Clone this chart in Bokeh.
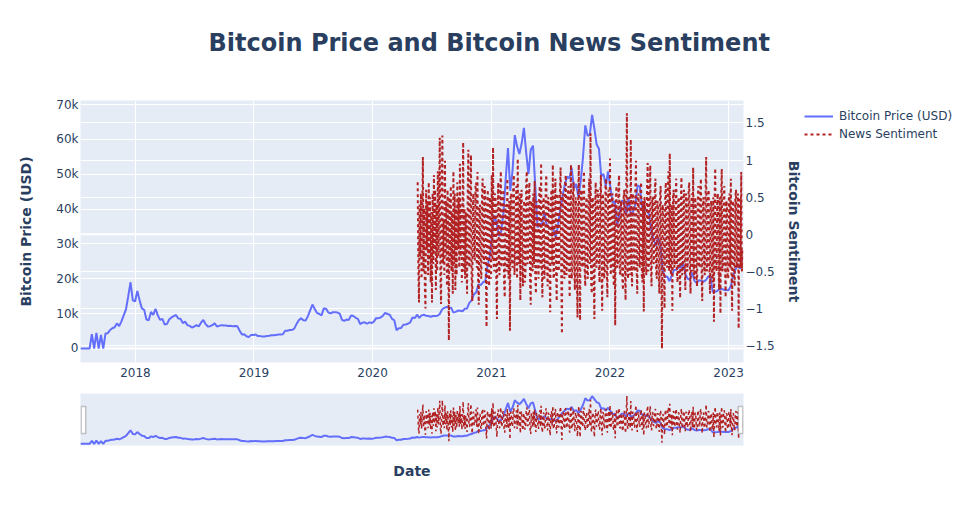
import pandas as pd
from bokeh.embed import file_html
from bokeh.layouts import column, row
from bokeh.models import (BoxAnnotation, ColumnDataSource, CustomJSTickFormatter,
                          DatetimeTickFormatter, FixedTicker, Grid, Legend, LegendItem,
                          LinearAxis, NumeralTickFormatter, Range1d, Span, Title)
from bokeh.plotting import figure
from bokeh.resources import INLINE

# ---- data ----
# weekly bitcoin price (USD), starting 2017-07-16
price_start = "2017-07-16"
price_usd = [
    # 2017
    0, 0, 0, 0, 0, 4100, 0, 4500, 0, 3900, 0, 4300, 4400, 5300, 5800, 6100,
    7200, 6400, 7800, 9500, 11200, 15000, 19000, 13800, 13500,
    # 2018
    16500, 13800, 11500, 11100, 8300, 8100, 10500, 9600, 11400, 9500, 8200, 8500,
    6900, 7000, 8300, 8900, 9300, 9600, 8600, 8500, 7300, 7700, 6700, 6500, 6000,
    6300, 6700, 6350, 7400, 8200, 7000, 6300, 6400, 6700, 7200, 6300, 6500, 6700,
    6600, 6600, 6450, 6500, 6350, 6450, 6350, 5100, 4000, 4100, 3500, 3250, 3900, 3850,
    # 2019
    4000, 3550, 3550, 3450, 3450, 3600, 3650, 3800, 3800, 3900, 4000, 4000, 4100,
    5100, 5100, 5300, 5300, 5700, 7000, 8100, 8700, 8100, 8000, 9300, 10900, 12600,
    11300, 10200, 9900, 9500, 11500, 11400, 10300, 10100, 10400, 10400, 10300, 10000,
    8200, 7900, 8300, 8200, 9500, 9300, 8800, 8500, 7000, 7400, 7500, 7100, 7500, 7300,
    # 2020
    7700, 8700, 8700, 8900, 9400, 10200, 9900, 9700, 8500, 8100, 5200, 5800, 5900,
    6800, 6900, 7100, 7500, 8900, 8700, 9700, 8800, 9500, 9700, 9400, 9300, 9100,
    9300, 9300, 9400, 9900, 11200, 11700, 11900, 11700, 11700, 10300, 10500, 10900,
    10800, 10700, 11400, 11500, 13100, 13800, 15500, 16100, 18400, 18200, 19000,
    19300, 23800, 26400,
    # 2021
    33000, 38200, 36000, 32300, 33500, 38900, 48700, 57500, 45200, 51000, 61200,
    58000, 55800, 58800, 63300, 56200, 50000, 57000, 58200, 46500, 34700, 35700,
    35800, 39000, 35600, 34700, 34600, 34200, 31800, 35400, 39900, 43800, 47000,
    49300, 48800, 51800, 46000, 47200, 43200, 48200, 55000, 64000, 61000, 61500,
    67000, 63000, 58500, 57300, 49400, 50100, 46700, 50800,
    # 2022
    46400, 41800, 42200, 35100, 38500, 42400, 42200, 38400, 43200, 38400, 39300,
    41300, 46800, 46400, 40500, 40400, 39500, 38500, 34000, 31300, 29400, 31800,
    29900, 22500, 20500, 20700, 19300, 20900, 22500, 22600, 23300, 23200, 24300,
    21500, 20000, 19800, 21800, 19400, 18800, 19600, 19400, 19200, 19600, 20600,
    20900, 16300, 16300, 16500, 17100, 17100, 16800, 16800,
    # 2023
    16700, 17900, 20900, 22700, 23800, 23000, 23600,
]

# news sentiment score, every 2 days starting 2020-05-19
sentiment_start = "2020-05-19"
sentiment = [
    0.70, -0.45, -0.92, 0.40, -0.30, 0.55, -0.60, 0.25, 1.04, -0.50,
    0.35, -0.70, -1.00, 0.60, -0.20, 0.45, -0.55, 0.70, -0.35, 0.50,
    -0.65, 0.30, -0.92, 0.55, -0.40, 0.80, -0.25, 0.60, -0.75, 0.40,
    -0.50, 0.85, -0.30, 0.45, 1.30, -0.60, -0.94, 0.50, 1.33, -0.40,
    0.20, -0.55, 0.99, -0.30, 0.45, -0.70, 0.60, -0.25, -1.43, 0.50,
    -0.35, 0.65, -0.50, 0.30, -0.80, 0.85, -0.40, 0.55, -0.75, 0.35,
    -0.55, 0.70, -0.20, 0.50, -0.45, 0.95, -0.30, 0.40, -0.65, 0.25,
    1.24, -0.50, 0.35, -0.60, 0.30, -0.35, -0.80, 0.55, 1.14, -0.40,
    -0.45, 0.60, 1.07, -0.55, -0.90, 0.45, 0.55, -0.30, -0.35, 0.65,
    0.70, -0.45, 0.84, -0.60, -0.95, 0.35, 0.40, -0.50, -0.60, 0.55,
    0.75, -0.30, -0.40, 0.65, 0.50, -0.55, -1.25, 0.40, 0.60, -0.45,
    -0.70, 0.50, 0.35, -0.60, 0.80, -0.35, 1.17, -0.40, -0.50, 0.55,
    0.45, -0.60, -1.14, 0.35, 0.70, -0.40, -0.55, 0.60, 0.85, -0.45,
    -0.30, 0.50, 0.60, -0.65, -0.85, 0.40, 0.25, -0.50, 0.75, -0.35,
    -0.60, 0.45, -1.30, 0.50, 0.55, -0.40, -0.45, 0.65, 0.80, -0.55,
    -0.20, 0.40, 0.65, -0.60, 1.02, -0.35, -0.40, 0.55, -0.89, 0.45,
    0.60, -0.45, -0.70, 0.35, 0.45, -0.65, -0.50, 0.70, 0.85, -0.40,
    -0.35, 0.55, 0.70, -0.60, -0.95, 0.45, 0.30, -0.50, 0.55, -0.40,
    0.72, -0.55, -0.80, 0.45, 0.40, -0.35, -0.60, 0.50, 0.65, -0.45,
    0.96, -0.50, -0.85, 0.40, 0.50, -0.60, -0.45, 0.65, 0.80, -0.40,
    -0.70, 0.50, 0.35, -0.55, -1.05, 0.45, 0.60, -0.40, 0.94, -0.60,
    -0.55, 0.40, 0.75, -0.45, -0.90, 0.55, 0.45, -0.50, -0.35, 0.60,
    0.90, -0.50, -1.34, 0.45, 0.55, -0.40, -0.60, 0.70, 0.80, -0.55,
    -0.40, 0.50, 0.65, -0.45, -0.85, 0.40, 0.94, -0.60, -0.50, 0.55,
    0.70, -0.45, -0.75, 0.50, 0.40, -0.60, -1.12, 0.45, 0.94, -0.50,
    -1.16, 0.55, 0.60, -0.40, -0.45, 0.65, 0.85, -0.50, -0.70, 0.40,
    0.50, -0.55, -0.60, 0.45, 0.75, -0.40, 1.36, -0.65, -0.80, 0.50,
    0.45, -0.60, -1.14, 0.40, 0.70, -0.45, -0.35, 0.60, 0.55, -0.50,
    -0.65, 0.45, 0.80, -0.40, -1.03, 0.55, 0.40, -0.60, -0.50, 0.65,
    0.75, -0.45, -0.85, 0.50, 0.60, -0.40, 1.02, -0.55, -0.45, 0.50,
    0.55, -0.50, -0.70, 0.40, -1.23, 0.50, 0.65, -0.45, -0.40, 0.60,
    0.80, -0.50, -0.55, 0.45, 0.35, -0.60, -0.75, 0.50, 0.60, -0.45,
    -0.89, 0.55, 1.63, -0.50, -0.60, 0.45, 0.50, -0.55, 1.28, -0.40,
    -0.70, 0.55, 0.45, -0.45, -0.50, 0.60, 0.99, -0.45, -0.80, 0.50,
    0.55, -0.40, -0.45, 0.60, 0.70, -0.55, -0.65, 0.45, -1.04, 0.50,
    0.40, -0.45, -0.55, 0.60, 0.96, -0.50, -0.40, 0.55, 0.93, -0.45,
    -0.70, 0.50, 0.50, -0.40, -0.35, 0.60, 0.75, -0.50, -0.60, 0.45,
    0.40, -0.55, -0.80, 0.50, 0.65, -0.45, -1.54, 0.40, 0.30, -0.50,
    -1.00, 0.55, 0.70, -0.40, -0.45, 0.60, 0.85, -0.50, 1.09, -0.45,
    -0.55, 0.40, -1.03, 0.50, 0.60, -0.45, -0.40, 0.55, 0.75, -0.50,
    -0.65, 0.45, 0.50, -0.45, -0.86, 0.40, 0.77, -0.55, -0.50, 0.45,
    0.60, -0.40, -0.75, 0.55, 0.45, -0.50, -0.35, 0.60, 0.70, -0.45,
    -0.80, 0.40, 0.55, -0.50, 0.90, -0.45, -0.60, 0.50, 0.40, -0.55,
    -0.70, 0.45, 0.65, -0.40, -0.45, 0.60, 0.75, -0.50, -0.90, 0.40,
    0.50, -0.45, -0.55, 0.45, 1.04, -0.50, -0.40, 0.55, 0.60, -0.45,
    -0.80, 0.40, 0.45, -0.55, -0.65, 0.50, -1.18, 0.45, 0.89, -0.40,
    -0.50, 0.45, 0.55, -0.45, -0.75, 0.50, -1.07, 0.40, 0.88, -0.50,
    -0.45, 0.55, 0.65, -0.40, -0.85, 0.45, 0.40, -0.55, -0.60, 0.50,
    0.55, -0.45, 0.75, -0.50, -1.03, 0.40, 0.45, -0.55, -0.70, 0.50,
    0.60, -0.45, -0.40, 0.55, -1.27, 0.40, 0.50, -0.45, 0.84, -0.50,
    -0.20,
]

year_labels = [2018, 2019, 2020, 2021, 2022, 2023]
price_ticks = [0, 10000, 20000, 30000, 40000, 50000, 60000, 70000]
sent_ticks = [-1.5, -1, -0.5, 0, 0.5, 1, 1.5]

FONT = "DejaVu Sans"
INK = "#2a3f5f"
BG = "#E5ECF6"
BLUE = "#636EFA"
RED = "#B22222"

price_src = ColumnDataSource(dict(
    date=pd.date_range(price_start, periods=len(price_usd), freq="7D"), price=price_usd))
sent_src = ColumnDataSource(dict(
    date=pd.date_range(sentiment_start, periods=len(sentiment), freq="2D"), score=sentiment))

x_start = pd.Timestamp("2017-07-16")
x_end = pd.Timestamp("2023-02-16")
year_ms = [pd.Timestamp(f"{y}-01-01").value / 1e6 for y in year_labels]


def style_axis(ax, label=None):
    ax.axis_line_color = None
    ax.major_tick_line_color = None
    ax.major_tick_out = 0
    ax.major_tick_in = 0
    ax.minor_tick_line_color = None
    ax.minor_tick_out = 0
    ax.major_label_text_font = FONT
    ax.major_label_text_font_size = "12px"
    ax.major_label_text_color = INK
    if label:
        ax.axis_label = label
    ax.axis_label_text_font = FONT
    ax.axis_label_text_font_size = "14px"
    ax.axis_label_text_font_style = "bold"
    ax.axis_label_text_color = INK


# ---- main chart ----
p = figure(x_axis_type="datetime", x_range=Range1d(x_start, x_end),
           y_range=Range1d(-4020, 71150), frame_width=663, frame_height=262,
           min_border_left=80, min_border_right=60, min_border_top=100, min_border_bottom=25,
           background_fill_color=BG, outline_line_color=None,
           toolbar_location=None, output_backend="svg")
p.extra_y_ranges = {"sent": Range1d(-1.728, 1.803)}

p.title.text = "Bitcoin Price and Bitcoin News Sentiment"
p.title.align = "left"
p.title.offset = 128
p.title.vertical_align = "top"
p.title.standoff = 54
p.title.text_font = FONT
p.title.text_font_size = "24px"
p.title.text_font_style = "bold"
p.title.text_color = INK
# thin spacer between the title and the plot frame
p.add_layout(Title(text=" ", text_font_size="1px", standoff=12), "above")

p.xaxis.ticker = FixedTicker(ticks=year_ms)
p.xaxis.formatter = DatetimeTickFormatter(years="%Y", months="%Y", days="%Y")
style_axis(p.xaxis[0])
p.xaxis.major_label_standoff = 5

p.yaxis.ticker = FixedTicker(ticks=price_ticks)
p.yaxis.formatter = NumeralTickFormatter(format="0a")
style_axis(p.yaxis[0], "Bitcoin Price (USD)")
p.yaxis.major_label_standoff = 2
p.yaxis.axis_label_standoff = 19

p.xgrid.ticker = FixedTicker(ticks=year_ms)
p.ygrid.ticker = FixedTicker(ticks=price_ticks)
p.grid.grid_line_color = "white"
p.grid.grid_line_width = 1
p.add_layout(Grid(dimension=1, ticker=FixedTicker(ticks=sent_ticks), y_range_name="sent",
                  grid_line_color="white", grid_line_width=1))
p.add_layout(Span(location=0, dimension="width", line_color="white", line_width=2,
                  level="underlay"))
p.add_layout(Span(location=0, dimension="width", y_range_name="sent", line_color="white",
                  line_width=2, level="underlay"))

p.line("date", "price", source=price_src, line_color=BLUE, line_width=2)
p.line("date", "score", source=sent_src, y_range_name="sent",
       line_color=RED, line_width=2, line_dash="3 3")

ax_r = LinearAxis(y_range_name="sent", ticker=FixedTicker(ticks=sent_ticks),
                  formatter=CustomJSTickFormatter(
                      code="return (tick < 0 ? '\\u2212' : '') + Math.abs(tick);"))
style_axis(ax_r, "Bitcoin Sentiment")
ax_r.major_label_standoff = 2
ax_r.axis_label_standoff = 8
ax_r.axis_label_orientation = "vertical"
p.add_layout(ax_r, "right")

# ---- range slider look-alike ----
s = figure(x_axis_type="datetime", x_range=Range1d(x_start, x_end),
           y_range=Range1d(-2300, 70800), frame_width=663, frame_height=52,
           y_axis_location=None,
           min_border_left=80, min_border_right=60, min_border_top=6, min_border_bottom=45,
           background_fill_color=BG, outline_line_color=None,
           toolbar_location=None, output_backend="svg")
s.extra_y_ranges = {"sent": Range1d(-1.72, 1.79)}
s.line("date", "price", source=price_src, line_color=BLUE, line_width=2)
s.line("date", "score", source=sent_src, y_range_name="sent",
       line_color=RED, line_width=1.5, line_dash="3 3")
# grab handles at both ends of the slider
for lo, hi in [(x_start + pd.Timedelta(days=2), x_start + pd.Timedelta(days=16)),
               (x_end - pd.Timedelta(days=16), x_end - pd.Timedelta(days=2))]:
    s.add_layout(BoxAnnotation(left=lo, right=hi, bottom=14500, top=52500,
                               fill_color="white", fill_alpha=1,
                               line_color="#444444", line_width=1.5, level="overlay"))
s.grid.visible = False
s.xaxis.ticker = FixedTicker(ticks=[])
style_axis(s.xaxis[0], "Date")
s.xaxis.major_label_standoff = 0
s.xaxis.axis_label_standoff = 17

# ---- legend panel to the right ----
lg = figure(width=160, height=200, x_range=Range1d(0, 1), y_range=Range1d(0, 1),
            x_axis_location=None, y_axis_location=None,
            min_border_left=0, min_border_right=0, min_border_top=107, min_border_bottom=0,
            background_fill_color=None, border_fill_color=None, outline_line_color=None,
            toolbar_location=None, output_backend="svg")
lg.grid.visible = False
# key renderers only feed the legend swatches (their points lie outside the view)
key_price = lg.line(x=[2, 3], y=[2, 2], line_color=BLUE, line_width=2)
key_sent = lg.line(x=[2, 3], y=[2, 2], line_color=RED, line_width=2, line_dash="3 3")
legend = Legend(items=[LegendItem(label="Bitcoin Price (USD)", renderers=[key_price]),
                       LegendItem(label="News Sentiment", renderers=[key_sent])],
                location="top_left", border_line_color=None, background_fill_alpha=0,
                label_text_font=FONT, label_text_font_size="12px", label_text_color=INK,
                glyph_width=29, glyph_height=18, label_height=18, label_standoff=6,
                spacing=0, padding=1, margin=0)
lg.add_layout(legend)

layout = row(column(p, s), lg)
open("out.html", "w").write(file_html(layout, INLINE))
